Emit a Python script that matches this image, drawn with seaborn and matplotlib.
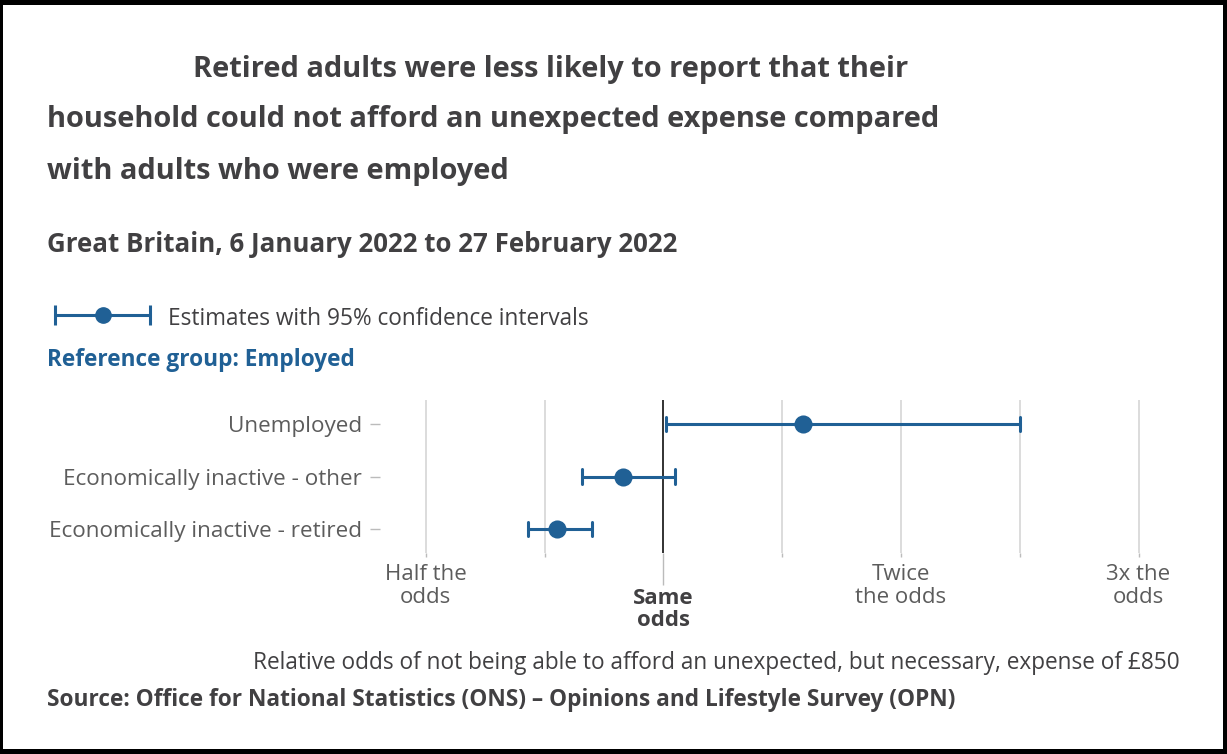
import numpy as np
import pandas as pd
import matplotlib
matplotlib.use("Agg")
import matplotlib.pyplot as plt
from matplotlib.patches import Rectangle
from matplotlib.transforms import ScaledTranslation
import seaborn as sns

# Odds ratios relative to the employed reference group, with 95% CIs
groups = ["Unemployed", "Economically inactive - other", "Economically inactive - retired"]
odds_ratio = [1.59, 0.854, 0.690]
ci_lower = [1.01, 0.744, 0.637]
ci_upper = [2.50, 1.05, 0.769]

tick_ratios = [0.5, 0.667, 1.0, 1.5, 2.0, 2.5, 3.0]
tick_labels = ["Half the\nodds", "", "Same\nodds", "", "Twice\nthe odds", "", "3x the\nodds"]

BLUE = "#206095"
DARK = "#414042"
GREY = "#5c5c5c"
GRID = "#d9d9d9"


def symmetric_odds(r):
    """Map an odds ratio so that 'half' and 'twice' sit equally far from 1."""
    r = np.asarray(r, dtype=float)
    return np.where(r >= 1, r - 1, 1 - 1 / r)


# Long-form table: each group contributes lower bound, estimate and upper bound
rows = []
for g, lo, est, hi in zip(groups, ci_lower, odds_ratio, ci_upper):
    for v in (lo, est, hi):
        rows.append({"group": g, "pos": float(symmetric_odds(v))})
df = pd.DataFrame(rows)

sns.set_theme(style="white")
plt.rcParams["font.family"] = ["Open Sans", "DejaVu Sans"]

W, H = 1227, 754
fig = plt.figure(figsize=(W / 100, H / 100), dpi=100)
fig.patch.set_facecolor("white")

ax_left, ax_right, ax_top, ax_bot = 380, 1180, 400, 553
ax = fig.add_axes([ax_left / W, 1 - ax_bot / H, (ax_right - ax_left) / W, (ax_bot - ax_top) / H])

zero_px, unit_px = 663.3, 237.6
xlim = ((ax_left - zero_px) / unit_px, (ax_right - zero_px) / unit_px)

tick_pos = symmetric_odds(tick_ratios)
for x in tick_pos:
    if abs(x) > 1e-9:
        ax.axvline(x, color=GRID, lw=1.3, zorder=0)
ax.axvline(0, color="#222222", lw=1.3, zorder=1)

sns.pointplot(
    data=df, x="pos", y="group", order=groups, orient="h",
    estimator="median", errorbar=("pi", 100),
    linestyle="none", color=BLUE, markers="o",
    capsize=0.27, err_kws={"linewidth": 2.2}, markersize=11,
    ax=ax, zorder=3,
)

ax.set_ylim(2.453, -0.453)
ax.set_xlim(*xlim)
for s in ax.spines.values():
    s.set_visible(False)

ax.set_xticks(tick_pos)
ax.set_xticklabels(tick_labels, fontsize=16, color=GREY, linespacing=1.1)
ax.tick_params(axis="x", bottom=True, length=3, width=1, color="#bbbbbb", pad=5)
ax.tick_params(axis="y", left=True, length=7, width=1, color="#bbbbbb", pad=6,
               labelsize=16.2, labelcolor=GREY)
ax.set_xlabel("")
ax.set_ylabel("")

# Emphasise the "Same odds" reference tick
ref = ax.xaxis.get_major_ticks()[2]
ref.tick1line.set_markersize(23)
ref.tick1line.set_color("#222222")
ref.label1.set_fontweight("bold")
ref.label1.set_color(DARK)
ref.label1.set_transform(ref.label1.get_transform() + ScaledTranslation(0, -17 / 72, fig.dpi_scale_trans))


def fx(px):
    return px / W


def fy(py):
    return 1 - py / H


# Titles
title_kw = dict(fontsize=20.9, fontweight="bold", color=DARK, va="center", ha="left")
fig.text(fx(193), fy(69), "Retired adults were less likely to report that their", **title_kw)
fig.text(fx(47), fy(120), "household could not afford an unexpected expense compared", **title_kw)
fig.text(fx(47), fy(172), "with adults who were employed", **title_kw)
fig.text(fx(47), fy(244), "Great Britain, 6 January 2022 to 27 February 2022",
         fontsize=18.6, fontweight="bold", color=DARK, va="center", ha="left")

# Legend glyph
lax = fig.add_axes([fx(50), fy(330), fx(105), 30 / H])
lax.errorbar([0], [0], xerr=[[1], [1]], fmt="o", color=BLUE, ms=11,
             elinewidth=2.2, capsize=7, capthick=2.2)
lax.set_xlim(-1.1, 1.1)
lax.set_ylim(-1, 1)
lax.axis("off")
fig.text(fx(168), fy(319), "Estimates with 95% confidence intervals",
         fontsize=16.3, color=DARK, va="center", ha="left")
fig.text(fx(47), fy(360), "Reference group: Employed",
         fontsize=16.3, fontweight="bold", color=BLUE, va="center", ha="left")

# Axis caption and source
fig.text(fx(1180), fy(663),
         "Relative odds of not being able to afford an unexpected, but necessary, expense of £850",
         fontsize=16.3, color=DARK, va="center", ha="right")
fig.text(fx(47), fy(700),
         "Source: Office for National Statistics (ONS) – Opinions and Lifestyle Survey (OPN)",
         fontsize=16.3, fontweight="bold", color=DARK, va="center", ha="left")

# Frame around the figure
for (x0, y0, w, h) in [(0, 0, W, 5), (0, 0, 3, H), (W - 4, 0, 4, H), (0, H - 5, W, 5)]:
    fig.add_artist(Rectangle((fx(x0), fy(y0 + h)), w / W, h / H,
                             transform=fig.transFigure, color="black", lw=0))

fig.savefig("out.png", dpi=100, facecolor="white")
